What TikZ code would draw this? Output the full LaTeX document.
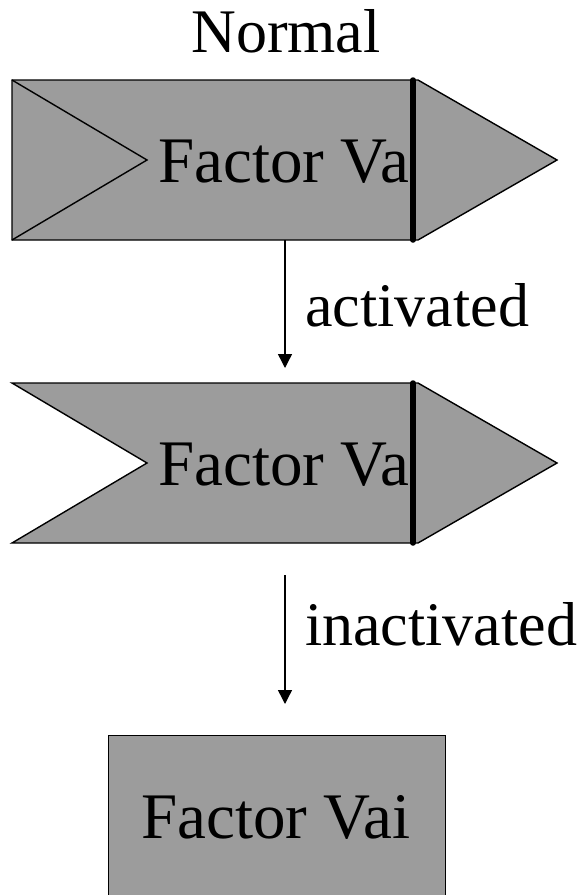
\documentclass[tikz,border=0pt]{standalone}
\usepackage{fontspec}
\setmainfont{Liberation Serif}
\usetikzlibrary{arrows.meta}
\definecolor{boxgray}{RGB}{156,156,156}
\tikzset{
  shapebox/.style={draw=black, fill=boxgray, line width=1.4pt, line join=miter},
  thin/.style={draw=black, line width=1.4pt},
  bar/.style={draw=black, line width=5.5pt, line cap=round},
  conn/.style={draw=black, line width=1.4pt, -{Triangle[length=14pt,width=14pt]}},
  lbl/.style={inner sep=0pt, font=\fontsize{62}{70}\selectfont},
  flbl/.style={inner sep=0pt, font=\fontsize{65}{72}\selectfont}
}
\begin{document}
\begin{tikzpicture}[x=1pt,y=-1pt]
\useasboundingbox (0,0) rectangle (587,895);
% title
\node[lbl, anchor=base] (title) at (286,52) {Normal};
% box 1
\path[shapebox] (12,80) -- (418,80) -- (557,160) -- (418,240) -- (12,240) -- cycle;
\draw[thin] (12,80) -- (147,160) -- (12,240);
\node[flbl, anchor=base west] (f1) at (158,182) {Factor Va};
\draw[bar] (413,80) -- (413,240);
% box 2
\path[shapebox] (12,383) -- (418,383) -- (557,463) -- (418,543) -- (12,543) -- (147,463) -- cycle;
\node[flbl, anchor=base west] (f2) at (158,485) {Factor Va};
\draw[bar] (413,383) -- (413,543);
% box 3
\node[shapebox, minimum width=337pt, minimum height=162pt, anchor=north west] (f3) at (108,735) {};
\node[flbl, anchor=base] (f3t) at (276,838) {Factor Vai};
% connectors
\coordinate (a1s) at (285,240);
\coordinate (a1e) at (285,368);
\coordinate (a2s) at (285,575);
\coordinate (a2e) at (285,704);
\draw[conn] (a1s) -- (a1e);
\draw[conn] (a2s) -- (a2e);
\node[lbl, anchor=base west] (act) at (305,326) {activated};
\node[lbl, anchor=base west] (inact) at (305,645) {inactivated};
\end{tikzpicture}
\end{document}
